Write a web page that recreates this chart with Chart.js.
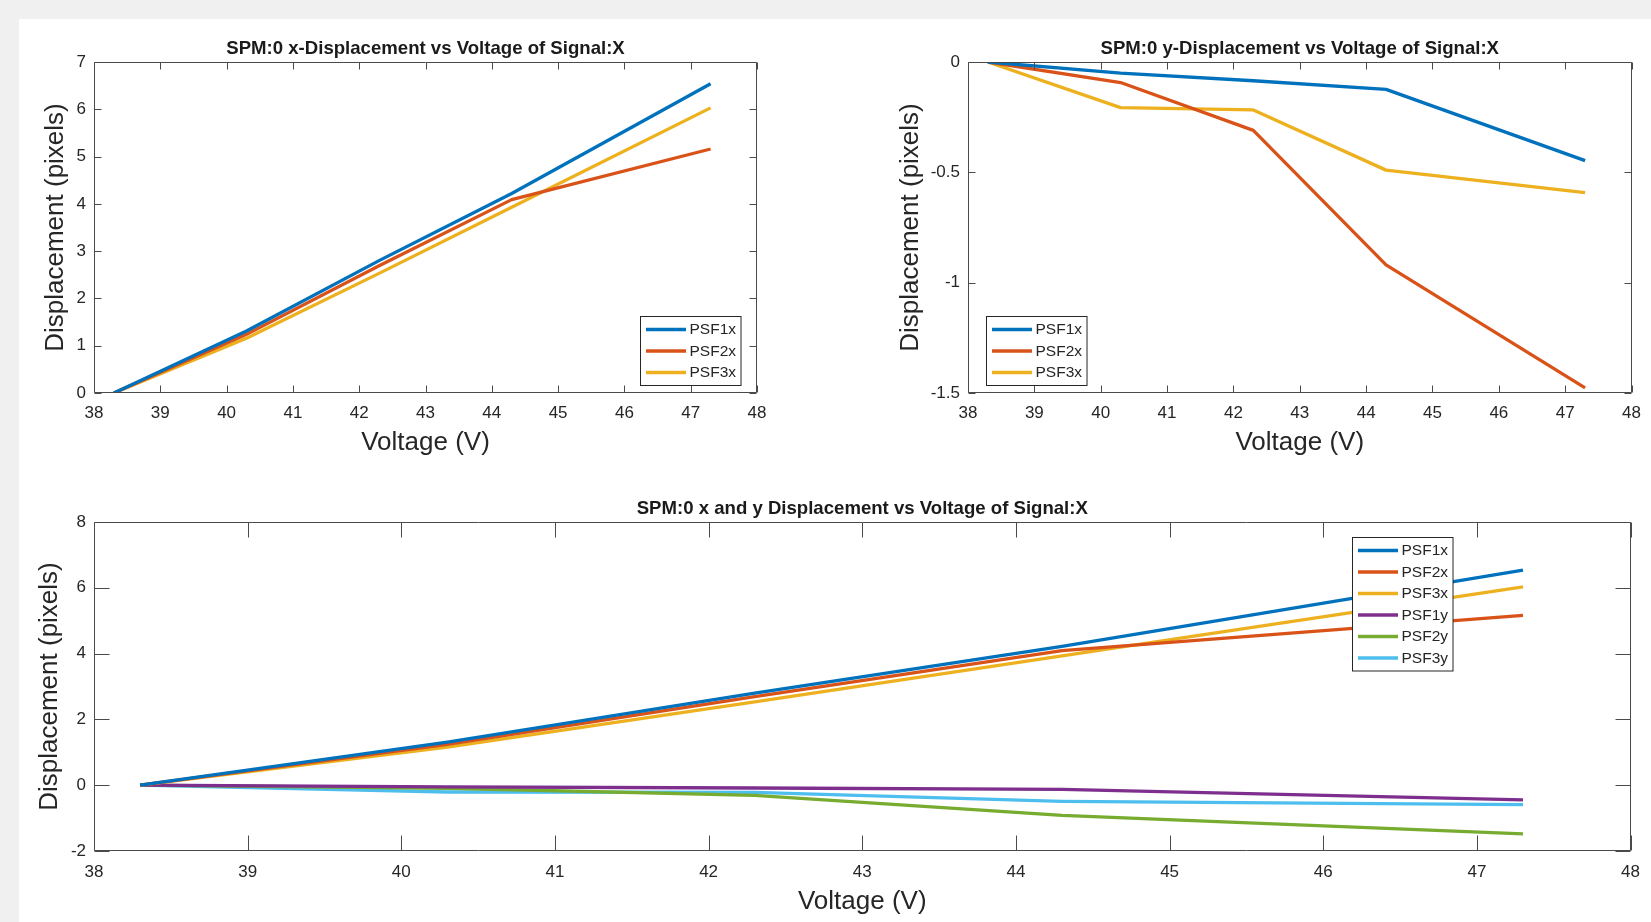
<!DOCTYPE html>
<html>
<head>
<meta charset="utf-8">
<title>SPM:0 Displacement vs Voltage of Signal:X</title>
<script src="https://cdn.jsdelivr.net/npm/chart.js@4.4.1/dist/chart.umd.min.js"></script>
<style>
  html, body { margin: 0; padding: 0; background: #f0f0f0; overflow: hidden; }
  #panel { position: absolute; left: 19px; top: 19px; width: 1632px; height: 903px; background: #ffffff; }
  canvas { position: absolute; left: 0; top: 0; width: 1651px; height: 922px; }
</style>
</head>
<body>
<div id="panel"></div>
<canvas id="chartX" width="1651" height="922"></canvas>
<canvas id="chartY" width="1651" height="922"></canvas>
<canvas id="chartXY" width="1651" height="922"></canvas>

<script>
// Datos (voltaje en V, desplazamiento en píxeles)
const voltage = [38.3, 40.3, 42.3, 44.3, 47.3];
const psf1x = [0, 1.31, 2.80, 4.22, 6.54];
const psf2x = [0, 1.24, 2.69, 4.09, 5.16];
const psf3x = [0, 1.16, 2.53, 3.93, 6.03];
const psf1y = [0, -0.05, -0.085, -0.124, -0.447];
const psf2y = [0, -0.093, -0.31, -0.919, -1.477];
const psf3y = [0, -0.207, -0.217, -0.49, -0.592];

const xTicks = [38, 39, 40, 41, 42, 43, 44, 45, 46, 47, 48];
const yTicksX = [0, 1, 2, 3, 4, 5, 6, 7];
const yTicksY = [-1.5, -1, -0.5, 0];
const yTicksXY = [-2, 0, 2, 4, 6, 8];

// Colores por defecto de MATLAB
const colors = {
  PSF1x: '#0072BD',
  PSF2x: '#D95319',
  PSF3x: '#EDB120',
  PSF1y: '#7E2F8E',
  PSF2y: '#77AC30',
  PSF3y: '#4DBEEE'
};

const FONT = '"Liberation Sans", Arial, Helvetica, sans-serif';
const W = 1651, H = 922;

function toPoints(values) {
  return voltage.map((v, i) => ({ x: v, y: values[i] }));
}

function makeDataset(label, values) {
  return {
    label: label,
    data: toPoints(values),
    borderColor: colors[label],
    backgroundColor: colors[label],
    borderWidth: 3.3,
    pointRadius: 0,
    tension: 0,
    fill: false,
    borderJoinStyle: 'round',
    borderCapStyle: 'butt'
  };
}

// Ejes tipo MATLAB: caja, ticks hacia dentro, título y leyenda
const matlabAxes = {
  id: 'matlabAxes',
  afterDatasetsDraw(chart, args, opts) {
    const ctx = chart.ctx;
    const a = chart.chartArea;
    const xs = chart.scales.x, ys = chart.scales.y;
    const len = opts.tickLength;

    ctx.save();
    ctx.strokeStyle = '#4a4a4a';
    ctx.lineWidth = 1;
    ctx.beginPath();
    const L = Math.round(a.left) + 0.5, R = Math.round(a.right) - 0.5;
    const T = Math.round(a.top) + 0.5, B = Math.round(a.bottom) - 0.5;
    ctx.rect(L, T, R - L, B - T);
    xs.ticks.forEach(t => {
      const px = Math.round(xs.getPixelForValue(t.value)) + 0.5;
      ctx.moveTo(px, B); ctx.lineTo(px, B - len);
      ctx.moveTo(px, T); ctx.lineTo(px, T + len);
    });
    ys.ticks.forEach(t => {
      const py = Math.round(ys.getPixelForValue(t.value)) + 0.5;
      ctx.moveTo(L, py); ctx.lineTo(L + len, py);
      ctx.moveTo(R, py); ctx.lineTo(R - len, py);
    });
    ctx.stroke();

    // título
    ctx.fillStyle = '#1a1a1a';
    ctx.font = 'bold 18.6px ' + FONT;
    ctx.textAlign = 'center';
    ctx.textBaseline = 'alphabetic';
    ctx.fillText(opts.title, (a.left + a.right) / 2, a.top - 8.5);

    // leyenda
    const lg = opts.legend;
    const items = chart.data.datasets;
    ctx.font = '15.5px ' + FONT;
    let maxW = 0;
    items.forEach(d => { maxW = Math.max(maxW, ctx.measureText(d.label).width); });
    const rowH = 21.5;
    const boxW = 5.5 + 40 + 3.5 + maxW + 5;
    const boxH = items.length * rowH + 4.5;
    let bx = lg.left !== undefined ? a.left + lg.left : a.right - lg.right - boxW;
    let by = lg.top !== undefined ? a.top + lg.top : a.bottom - lg.bottom - boxH;
    bx = Math.round(bx) + 0.5; by = Math.round(by) + 0.5;
    ctx.fillStyle = '#ffffff';
    ctx.fillRect(bx, by, boxW, boxH);
    ctx.strokeStyle = '#262626';
    ctx.strokeRect(bx, by, boxW, boxH);
    ctx.textAlign = 'left';
    ctx.textBaseline = 'middle';
    items.forEach((d, i) => {
      const cy = by + 2.25 + rowH * (i + 0.5);
      ctx.strokeStyle = d.borderColor;
      ctx.lineWidth = 3.3;
      ctx.beginPath();
      ctx.moveTo(bx + 5.5, cy);
      ctx.lineTo(bx + 45.5, cy);
      ctx.stroke();
      ctx.fillStyle = '#262626';
      ctx.fillText(d.label, bx + 49, cy + 0.5);
    });
    ctx.restore();
  }
};

function makeChart(canvasId, datasets, cfg) {
  const area = cfg.area;
  return new Chart(document.getElementById(canvasId), {
    type: 'line',
    data: { datasets: datasets },
    options: {
      responsive: false,
      animation: false,
      devicePixelRatio: 1,
      layout: {
        padding: {
          left: cfg.padLeft,
          top: area.top,
          right: W - area.right,
          bottom: H - area.bottom - cfg.xHeight
        }
      },
      plugins: {
        legend: { display: false },
        title: { display: false },
        tooltip: { enabled: false },
        matlabAxes: { title: cfg.title, tickLength: cfg.tickLength, legend: cfg.legend }
      },
      scales: {
        x: {
          type: 'linear',
          min: xTicks[0],
          max: xTicks[xTicks.length - 1],
          afterBuildTicks: s => { s.ticks = xTicks.map(v => ({ value: v })); },
          afterFit: s => { s.height = cfg.xHeight; },
          grid: { display: false, drawTicks: false },
          border: { display: false },
          ticks: {
            padding: cfg.xTickPad,
            autoSkip: false,
            maxRotation: 0,
            color: '#262626',
            font: { family: FONT, size: 17 },
            callback: v => String(v)
          },
          title: {
            display: true,
            text: 'Voltage (V)',
            color: '#262626',
            font: { family: FONT, size: 26 },
            padding: { top: 0, bottom: cfg.xTitlePad }
          }
        },
        y: {
          type: 'linear',
          min: cfg.yTicks[0],
          max: cfg.yTicks[cfg.yTicks.length - 1],
          afterBuildTicks: s => { s.ticks = cfg.yTicks.map(v => ({ value: v })); },
          afterFit: s => { s.width = area.left - cfg.padLeft; },
          grid: { display: false, drawTicks: false },
          border: { display: false },
          ticks: {
            padding: 8,
            autoSkip: false,
            color: '#262626',
            font: { family: FONT, size: 17 },
            callback: v => String(v)
          },
          title: {
            display: true,
            text: 'Displacement (pixels)',
            color: '#262626',
            font: { family: FONT, size: 26 },
            padding: { top: cfg.yTitlePad, bottom: 0 }
          }
        }
      }
    },
    plugins: [matlabAxes]
  });
}

makeChart('chartX', [
  makeDataset('PSF1x', psf1x),
  makeDataset('PSF2x', psf2x),
  makeDataset('PSF3x', psf3x)
], {
  area: { left: 94, top: 62, right: 757, bottom: 393 },
  padLeft: 20,
  xHeight: 70,
  xTickPad: 10,
  xTitlePad: 5,
  yTitlePad: 20,
  yTicks: yTicksX,
  tickLength: 7,
  title: 'SPM:0 x-Displacement vs Voltage of Signal:X',
  legend: { right: 16, bottom: 8 }
});

makeChart('chartY', [
  makeDataset('PSF1x', psf1y),
  makeDataset('PSF2x', psf2y),
  makeDataset('PSF3x', psf3y)
], {
  area: { left: 968, top: 62, right: 1633, bottom: 393 },
  padLeft: 880,
  xHeight: 70,
  xTickPad: 10,
  xTitlePad: 5,
  yTitlePad: 15,
  yTicks: yTicksY,
  tickLength: 7,
  title: 'SPM:0 y-Displacement vs Voltage of Signal:X',
  legend: { left: 18, bottom: 8 }
});

makeChart('chartXY', [
  makeDataset('PSF1x', psf1x),
  makeDataset('PSF2x', psf2x),
  makeDataset('PSF3x', psf3x),
  makeDataset('PSF1y', psf1y),
  makeDataset('PSF2y', psf2y),
  makeDataset('PSF3y', psf3y)
], {
  area: { left: 94, top: 522, right: 1633, bottom: 851 },
  padLeft: 20,
  xHeight: 71,
  xTickPad: 11,
  xTitlePad: 5,
  yTitlePad: 14,
  yTicks: yTicksXY,
  tickLength: 15,
  title: 'SPM:0 x and y Displacement vs Voltage of Signal:X',
  legend: { left: 1258, top: 15 }
});
</script>
</body>
</html>
